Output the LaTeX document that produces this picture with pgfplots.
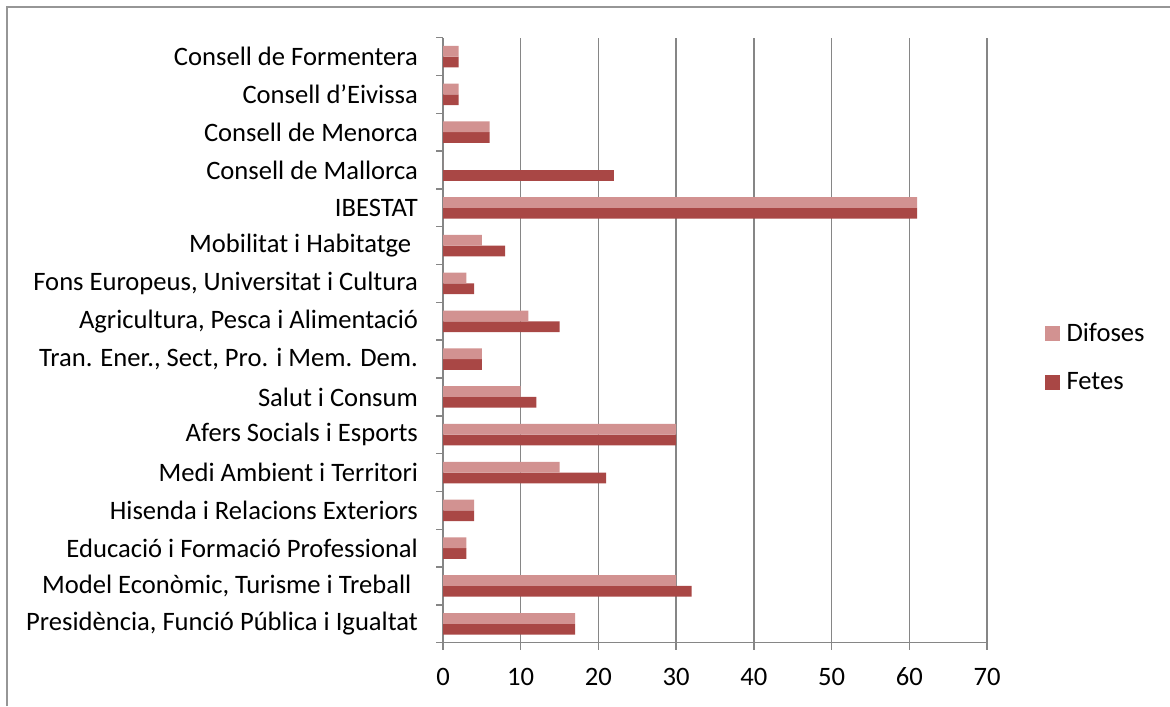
\documentclass[border=0pt]{standalone}
\usepackage{pgfplots}
\pgfplotsset{compat=1.18}
\usepackage{fontspec}
\setmainfont{Carlito}

\definecolor{difoses}{RGB}{210,146,145}
\definecolor{fetes}{RGB}{169,71,69}
\definecolor{axgray}{RGB}{134,134,134}
\definecolor{framegray}{RGB}{150,150,150}

\begin{document}
\begin{tikzpicture}[x=1pt,y=1pt]
\useasboundingbox (0,0) rectangle (585,353);
\draw[framegray, line width=0.7pt] (3.5,0) -- (3.5,349.5) -- (600,349.5);
\begin{axis}[
	at={(221.5pt,31.65pt)}, anchor=south west,
	scale only axis,
	width=272pt, height=302.5pt,
	xbar=0pt, bar width=5.375pt,
	xmin=0, xmax=70,
	xtick={0,10,...,70},
	ymin=-0.5, ymax=15.5,
	ytick={0,...,15},
	yticklabels={
		{Presidència, Funció Pública i Igualtat},
		{Model Econòmic, Turisme i Treball\hspace*{0.25em}},
		{Educació i Formació Professional},
		{Hisenda i Relacions Exteriors},
		{Medi Ambient i Territori},
		{Afers Socials i Esports},
		{Salut i Consum},
		{Tran. Ener., Sect, Pro. i Mem. Dem.},
		{Agricultura, Pesca i Alimentació},
		{Fons Europeus, Universitat i Cultura},
		{Mobilitat i Habitatge\hspace*{0.25em}},
		{IBESTAT},
		{Consell de Mallorca},
		{Consell de Menorca},
		{Consell d’Eivissa},
		{Consell de Formentera}},
	minor ytick={-0.5,0.5,...,15.5},
	axis x line*=bottom, axis y line*=left,
	axis line style={axgray, line width=0.7pt},
	tick align=outside,
	major tick length=3.5pt, minor tick length=3.5pt,
	every major y tick/.style={draw=none},
	every minor y tick/.style={axgray, line width=0.7pt},
	xtick style={axgray, line width=0.7pt},
	xmajorgrids=true,
	grid style={axgray, line width=0.7pt},
	/pgf/number format/assume math mode=true,
	tick label style={font=\fontsize{13.3}{15}\selectfont, black},
	yticklabel style={xshift=-5.5pt},
	xticklabel style={yshift=-5.5pt},
	reverse legend,
	legend style={at={(1.105,0.4706)}, anchor=west, draw=none, fill=none,
		inner sep=0pt, row sep=10pt, font=\fontsize{13.3}{15}\selectfont,
		legend cell align=left,
		/tikz/every odd column/.append style={column sep=1.5pt}},
	legend image code/.code={\fill[#1] (0pt,-3.75pt) rectangle (7.5pt,3.75pt);},
]
\addplot[draw=none, fill=fetes] coordinates {
	(17,0) (32,1) (3,2) (4,3) (21,4) (30,5) (12,6) (5,7)
	(15,8) (4,9) (8,10) (61,11) (22,12) (6,13) (2,14) (2,15)
};
\addlegendentry{Fetes}
\addplot[draw=none, fill=difoses] coordinates {
	(17,0) (30,1) (3,2) (4,3) (15,4) (30,5) (10,6) (5,7)
	(11,8) (3,9) (5,10) (61,11) (0,12) (6,13) (2,14) (2,15)
};
\addlegendentry{Difoses}
\end{axis}
\end{tikzpicture}
\end{document}
